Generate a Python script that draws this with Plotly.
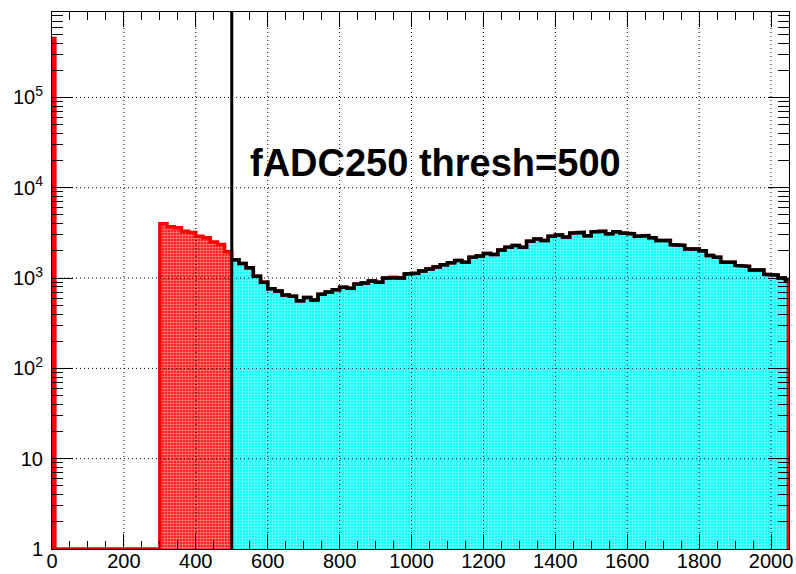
import numpy as np
import plotly.graph_objects as go

# ---------------- data ----------------
spike_edges = [0, 8]
spike_counts = [450000]
gap_edges = [8, 300]          # empty region (drawn at the axis floor)
red_start, bin_w = 300, 20
red_counts = [4000, 3700, 3600, 3300, 3200, 2900, 2800, 2500, 2350, 1950]
cyan_start = 500
cyan_counts = [1600, 1450, 1300, 1050, 900, 760, 720, 650, 630, 560,
               610, 570, 660, 700, 740, 790, 770, 860, 880, 930,
               900, 1000, 1020, 1000, 1110, 1130, 1200, 1260, 1330, 1400,
               1480, 1560, 1500, 1700, 1760, 1870, 1820, 2050, 2200, 2300,
               2200, 2550, 2700, 2600, 2900, 3000, 2850, 3150, 3200, 2950,
               3250, 3300, 3100, 3250, 3150, 3100, 2900, 2950, 2800, 2600,
               2600, 2350, 2300, 2100, 2100, 2000, 1780, 1700, 1500, 1500,
               1380, 1350, 1230, 1230, 1100, 1080, 1000, 950]
x_max = 2048
threshold = 500
title_text = "fADC250 thresh=500"
x_ticks = [0, 200, 400, 600, 800, 1000, 1200, 1400, 1600, 1800, 2000]
y_ticks = [1, 10, 100, 1000, 10000, 100000]
y_ticktext = ["1", "10", "10<sup>2</sup>", "10<sup>3</sup>", "10<sup>4</sup>", "10<sup>5</sup>"]

# ---------------- build histogram bins ----------------
red_edges = [red_start + bin_w * i for i in range(len(red_counts) + 1)]
cyan_edges = [min(cyan_start + bin_w * i, x_max) for i in range(len(cyan_counts) + 1)]

FLOOR = 1.0
all_edges = spike_edges + gap_edges[1:] + red_edges[1:] + cyan_edges[1:]
all_counts = spike_counts + [0] + red_counts + cyan_counts


def step_polygon(edges, counts, close=True):
    xs, ys = [], []
    if close:
        xs.append(edges[0]); ys.append(FLOOR)
    for i, c in enumerate(counts):
        v = max(c, FLOOR)
        xs += [edges[i], edges[i + 1]]
        ys += [v, v]
    if close:
        xs.append(edges[-1]); ys.append(FLOOR)
    return xs, ys


fig = go.Figure()

# red filled histogram (full spectrum)
rx, ry = step_polygon(all_edges, all_counts)
fig.add_trace(go.Scatter(
    x=rx, y=ry, mode="lines", fill="toself",
    fillcolor="#ff0000",
    fillpattern=dict(shape=".", fgcolor="white", bgcolor="#ff0000", size=3, solidity=0.55),
    line=dict(color="#ff0000", width=0), hoverinfo="skip", showlegend=False))

# cyan filled histogram (above threshold)
cx, cy = step_polygon(cyan_edges, cyan_counts)
fig.add_trace(go.Scatter(
    x=cx, y=cy, mode="lines", fill="toself",
    fillcolor="#00ffff",
    fillpattern=dict(shape=".", fgcolor="white", bgcolor="#00ffff", size=3, solidity=0.45),
    line=dict(color="#00ffff", width=0), hoverinfo="skip", showlegend=False))

# red outline
fig.add_trace(go.Scatter(
    x=rx, y=ry, mode="lines", line=dict(color="#ff0000", width=3.5),
    hoverinfo="skip", showlegend=False))

# black outline of the cyan histogram (no closing drops)
bx, by = step_polygon(cyan_edges, cyan_counts, close=False)
fig.add_trace(go.Scatter(
    x=bx, y=by, mode="lines", line=dict(color="black", width=3.5),
    hoverinfo="skip", showlegend=False))

# invisible trace to anchor the mirrored (top/right) tick axes
fig.add_trace(go.Scatter(
    x=bx, y=by, mode="lines", xaxis="x2", yaxis="y2", opacity=0,
    hoverinfo="skip", showlegend=False))

# grid (dotted, drawn above fills like ROOT)
shapes = []
for xv in x_ticks[1:]:
    shapes.append(dict(type="line", xref="x", yref="paper", x0=xv, x1=xv, y0=0, y1=1,
                       line=dict(color="black", width=1, dash="1px,3px"), layer="above"))
for yv in y_ticks[1:]:
    shapes.append(dict(type="line", xref="paper", yref="y", x0=0, x1=1, y0=yv, y1=yv,
                       line=dict(color="black", width=1, dash="1px,3px"), layer="above"))
# threshold line
shapes.append(dict(type="line", xref="x", yref="paper", x0=threshold, x1=threshold, y0=0, y1=1,
                   line=dict(color="black", width=3), layer="above"))

minor_y = [m * 10 ** d for d in range(0, 6) for m in range(2, 10)]
X_RANGE = [0, 2050]
Y_RANGE = [0, 5.946]

common_x = dict(range=X_RANGE, showgrid=False, zeroline=False, automargin=False,
                tickvals=x_ticks, ticks="inside", ticklen=15, tickwidth=1, tickcolor="black",
                minor=dict(dtick=50, tick0=0, ticks="inside", ticklen=8, tickcolor="black",
                           showgrid=False),
                showline=True, linecolor="black", linewidth=1)
common_y = dict(type="log", range=Y_RANGE, showgrid=False, zeroline=False, automargin=False,
                tickvals=y_ticks, ticks="inside", ticklen=21, tickwidth=1, tickcolor="black",
                minor=dict(tickvals=minor_y, ticks="inside", ticklen=11, tickcolor="black",
                           showgrid=False),
                showline=True, linecolor="black", linewidth=1)

fig.update_layout(
    width=796, height=574,
    margin=dict(l=52, r=7, t=12, b=25),
    paper_bgcolor="white", plot_bgcolor="white",
    font=dict(family="Liberation Sans, Arial, sans-serif", size=20, color="black"),
    shapes=shapes,
    annotations=[dict(text="<b>" + title_text + "</b>", xref="paper", yref="paper",
                      x=0.521, y=0.719, xanchor="center", yanchor="middle", showarrow=False,
                      font=dict(size=38, color="black",
                                family="Liberation Sans, Arial, sans-serif"))],
    xaxis=dict(**common_x, tickfont=dict(size=20), ticklabelstandoff=-6,
               ticklabeloverflow="allow"),
    yaxis=dict(**common_y, ticktext=y_ticktext, tickfont=dict(size=20), ticklabelstandoff=4),
    xaxis2=dict(**common_x, overlaying="x", side="top", anchor="y2", showticklabels=False),
    yaxis2=dict(**common_y, overlaying="y", side="right", anchor="x2", showticklabels=False),
)

# remove the default 8px page margin so the 796x574 figure fills the window exactly
fig.write_html("out.html", config={"displayModeBar": False},
               post_script="document.body.style.margin='0px';")
